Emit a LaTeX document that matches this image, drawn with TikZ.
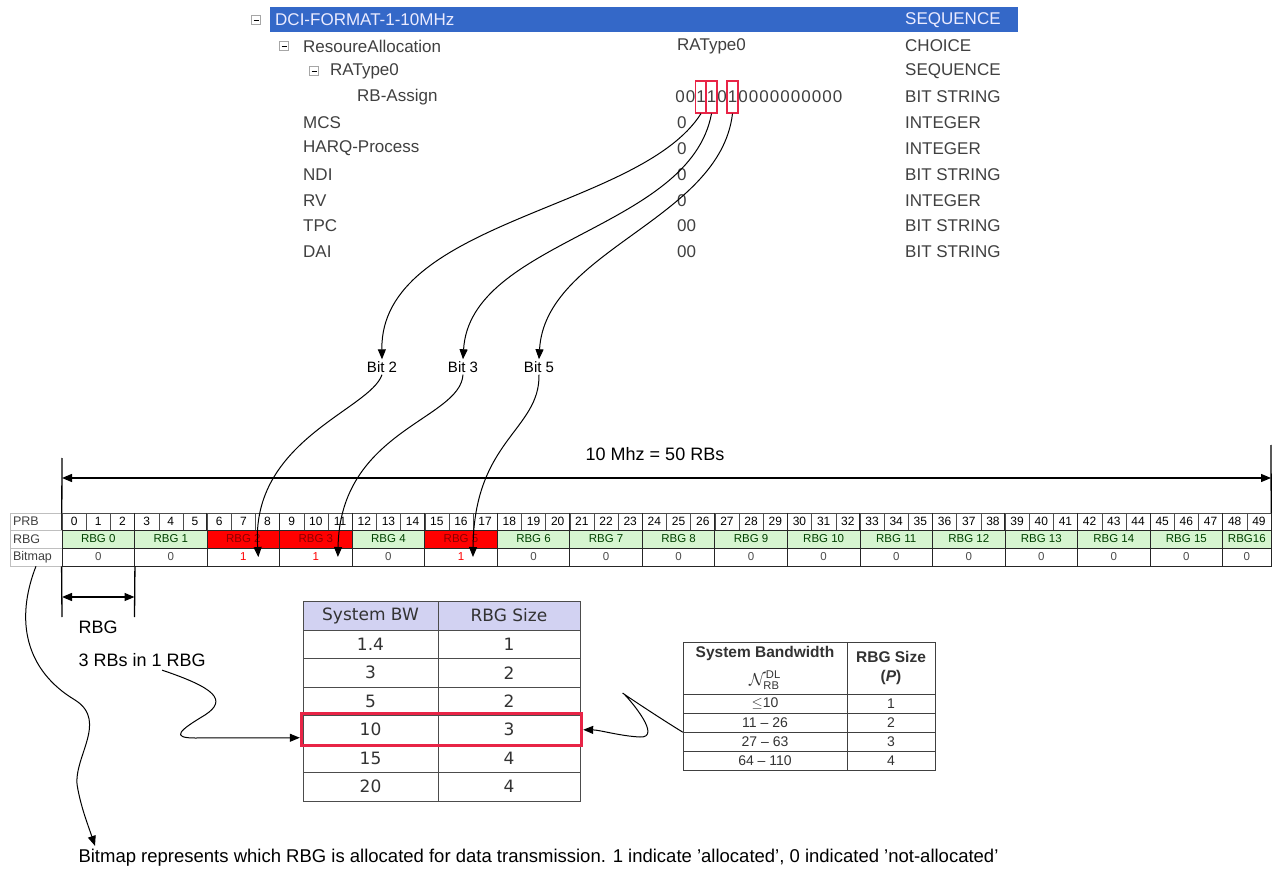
\documentclass[tikz,border=0pt]{standalone}
\usepackage{amsmath,amssymb}
\usepackage{fontspec}
\setmainfont{Liberation Sans}
\newfontfamily\bwfont{DejaVu Sans}
\usepackage{xcolor}
\usepackage{tikz}
\usetikzlibrary{
    arrows.meta,
    calc,
    fit
}
\definecolor{hlblue}{RGB}{52,104,200}
\definecolor{selred}{RGB}{232,36,70}
\definecolor{rbggreen}{RGB}{214,245,208}
\definecolor{rbgred}{RGB}{255,0,0}
\definecolor{headlav}{RGB}{210,210,242}
\newcommand{\fsz}[1]{\fontsize{#1}{#1}\selectfont}

\begin{document}
\begin{tikzpicture}[
    x=1pt, y=-1pt,
    treetext/.style={anchor=west, inner sep=0pt, text=black!75, font=\fsz{17}},
    expander/.style={draw=black!35, fill=white, minimum size=9pt, inner sep=0pt},
    bitchar/.style={inner sep=0pt, minimum width=10.4pt, text=black!75, font=\fsz{17}},
    bitbox/.style={draw=selred, line width=1.2pt, minimum width=11pt, minimum height=32pt, inner sep=0pt},
    bitlabel/.style={font=\fsz{15}, inner sep=2pt},
    arrow/.style={-{Triangle[length=10pt,width=8pt]}, line width=1pt},
    dimarrow/.style={{Triangle[length=10pt,width=8pt]}-{Triangle[length=10pt,width=8pt]}, line width=1.3pt},
    tick/.style={line width=1.3pt},
    rowlabel/.style={draw=black!25, text width=46pt, inner xsep=3pt, inner ysep=0pt, align=left, text=black!75, font=\fsz{12.5}},
    prbcell/.style={draw=black!70, minimum width=24.18pt, minimum height=17pt, inner sep=0pt, font=\fsz{12}},
    rbgcell/.style={draw=black!85, line width=0.8pt, minimum width=72.54pt, minimum height=18pt, inner sep=0pt, font=\fsz{11.5}},
    rbgon/.style={fill=rbgred, text=red!55!black},
    rbgoff/.style={fill=rbggreen, text=green!25!black},
    bmon/.style={fill=white, text=red},
    bmoff/.style={fill=white, text=black!70},
    bwcell/.style={draw=black!70, minimum height=28.5pt, inner sep=0pt, text=black!80, font=\bwfont\fsz{17}},
    bwhead/.style={bwcell, minimum height=29pt, fill=headlav},
    selbox/.style={draw=selred, line width=3pt, inner sep=1.5pt},
    nrcell/.style={draw=black!75, minimum height=19pt, inner sep=0pt, text=black!80, font=\fsz{14}},
    nrhead/.style={nrcell, minimum height=52pt, font=\bfseries\fsz{15.5}, align=center}
]
\useasboundingbox[fill=white] (0,0) rectangle (1277,874);

% Tree of the DCI fields
\node[fill=hlblue, minimum width=748pt, minimum height=25pt, inner sep=0pt, anchor=west] (hl) at (270,20) {};
\node[expander] (ex0) at (256,20) {\rule{5pt}{0.6pt}};
\node[expander] (ex1) at (284,46) {\rule{5pt}{0.6pt}};
\node[expander] (ex2) at (314,71) {\rule{5pt}{0.6pt}};
\node[treetext, text=blue!8] (dci) at (275,20) {DCI-FORMAT-1-10MHz};
\node[treetext, text=blue!8] (dcitype) at (905,20) {SEQUENCE};
\node[treetext] (ra) at (303,46) {ResoureAllocation};
\node[treetext] (raval) at (677,46) {RAType0};
\node[treetext] (ratype) at (905,46) {CHOICE};
\node[treetext] (rat0) at (330,71) {RAType0};
\node[treetext] (rat0type) at (905,71) {SEQUENCE};
\node[treetext] (rba) at (357,97) {RB-Assign};
\node[treetext] (rbatype) at (905,97) {BIT STRING};
\foreach \name/\val/\type [count=\r] in {MCS/0/INTEGER, HARQ-Process/0/INTEGER,
    NDI/0/BIT STRING, RV/0/INTEGER, TPC/00/BIT STRING, DAI/00/BIT STRING} {
    \node[treetext] (f\r) at (303,{97+25.8*\r}) {\name};
    \node[treetext] (v\r) at (677,{97+25.8*\r}) {\val};
    \node[treetext] (t\r) at (905,{97+25.8*\r}) {\type};
}

% Bit string
\foreach \c [count=\i from 0] in {0,0,1,1,0,1,0,0,0,0,0,0,0,0,0,0} {
    \node[bitchar] (ch\i) at ({680+10.5*\i},97) {\c};
}
\node[bitbox] (sel2) at (ch2) {};
\node[bitbox] (sel3) at (ch3) {};
\node[bitbox] (sel5) at (ch5) {};

% Bit labels
\node[bitlabel] (b2) at (382,367) {Bit 2};
\node[bitlabel] (b3) at (463,367) {Bit 3};
\node[bitlabel] (b5) at (539,367) {Bit 5};

\draw[arrow] (sel2.south) .. controls (640,210) and (380,220) .. (b2.north);
\draw[arrow] (sel3.south) .. controls (690,230) and (470,240) .. (b3.north);
\draw[arrow] (sel5.south) .. controls (720,220) and (545,250) .. (b5.north);

% PRB / RBG / Bitmap table
\node[rowlabel, minimum height=17pt] (lprb) at (36,521.5) {PRB};
\node[rowlabel, minimum height=18pt] (lrbg) at (36,539) {RBG};
\node[rowlabel, minimum height=18pt] (lbm) at (36,557) {Bitmap};
\foreach \i in {0,...,49} {
    \node[prbcell] (prb\i) at ({74.09+24.18*\i},521.5) {\i};
}
\foreach \g in {0,...,16} {
    \pgfmathtruncatemacro{\k}{3*\g}
    \draw[line width=0.8pt, black!85] (prb\k.north west) -- (prb\k.south west);
}
\draw[line width=0.8pt, black!85] (prb49.north east) -- (prb49.south east);
\foreach \g/\st/\bit in {0/off/0, 1/off/0, 2/on/1, 3/on/1, 4/off/0, 5/on/1, 6/off/0, 7/off/0,
    8/off/0, 9/off/0, 10/off/0, 11/off/0, 12/off/0, 13/off/0, 14/off/0, 15/off/0} {
    \node[rbgcell, rbg\st] (rbg\g) at ({98.27+72.54*\g},539) {RBG \g};
    \node[rbgcell, bm\st] (bm\g) at ({98.27+72.54*\g},557) {\bit};
}
\node[rbgcell, rbgoff, minimum width=48.36pt] (rbg16) at (1246.8,539) {RBG16};
\node[rbgcell, bmoff, minimum width=48.36pt] (bm16) at (1246.8,557) {0};

% Bandwidth span
\coordinate (wtl) at (62,458);
\coordinate (wtr) at (1271,445);
\coordinate (wa) at (62,478);
\coordinate (wb) at (1271,478);
\draw[tick] (wtl) -- (prb0.north west);
\draw[tick] (wtr) -- (prb49.north east);
\draw[dimarrow] (wa) -- (wb);
\node[font=\fsz{18}] (span) at (655,454) {10 Mhz = 50 RBs};

% RBG span
\coordinate (ra) at (62,617);
\coordinate (rb) at (134.5,617);
\coordinate (rc) at (62,597);
\coordinate (rd) at (134.5,597);
\draw[tick] (bm0.south west) -- (ra);
\draw[tick] (bm0.south east) -- (rb);
\draw[dimarrow] (rc) -- (rd);
\node[anchor=west, font=\fsz{18}] (rbglab) at (75,627) {RBG};
\node[anchor=west, font=\fsz{18}] (rbtext) at (75,660) {3 RBs in 1 RBG};

% Bit arrows into the table
\draw[arrow] (b2.south) .. controls (370,410) and (250,440) .. ([xshift=15pt]bm2.center);
\draw[arrow] (b3.south) .. controls (460,420) and (340,430) .. ([xshift=22pt]bm3.center);
\draw[arrow] (b5.south) .. controls (540,430) and (474,440) .. ([xshift=12pt]bm5.center);

% System BW table
\node[bwhead, minimum width=135pt] (bwh) at (370.5,615.5) {System BW};
\node[bwhead, minimum width=142pt] (szh) at (509,615.5) {RBG Size};
\foreach \bw/\sz [count=\r] in {1.4/1, 3/2, 5/2, 10/3, 15/4, 20/4} {
    \node[bwcell, minimum width=135pt] (bw\r) at (370.5,{615.75+28.5*\r}) {\bw};
    \node[bwcell, minimum width=142pt] (sz\r) at (509,{615.75+28.5*\r}) {\sz};
}
\node[selbox, fit=(bw4)(sz4)] (selrow) {};

% N_RB table
\node[nrhead, minimum width=164pt] (nrh) at (765,668) {System Bandwidth\\[9pt] \fsz{16}$\mathcal{N}_{\mathrm{RB}}^{\mathrm{DL}}$};
\node[nrhead, minimum width=88pt] (rph) at (891,668) {RBG Size\\[3pt] (\textit{P})};
\foreach \nr/\p [count=\r] in {{$\leq$10}/1, {11 -- 26}/2, {27 -- 63}/3, {64 -- 110}/4} {
    \node[nrcell, minimum width=164pt] (nr\r) at (765,{684.5+19*\r}) {\nr};
    \node[nrcell, minimum width=88pt] (rp\r) at (891,{684.5+19*\r}) {\p};
}

% Pointers to the selected row
\draw[arrow] ([xshift=20pt]rbtext.south) .. controls (215,688) and (228,700) .. (205,715)
    .. controls (180,730) and (170,738) .. (195,738) -- ([yshift=-8pt]selrow.west);
\draw[arrow] (nr2.south west) .. controls (650,712) and (615,688) .. (624,694)
    .. controls (632,702) and (662,738) .. (640,737) .. controls (620,736) and (600,730) .. (selrow.east);

% Bitmap note
\node[anchor=west, font=\fsz{18.5}] (note) at (75,858) {Bitmap represents which RBG is allocated for data transmission. 1 indicate 'allocated', 0 indicated 'not-allocated'};
\draw[arrow] (lbm.south) .. controls (15,620) and (25,670) .. (75,700)
    .. controls (110,722) and (70,760) .. (78,790) .. controls (82,810) and (88,825) .. ([xshift=20pt]note.north west);

\end{tikzpicture}
\end{document}
